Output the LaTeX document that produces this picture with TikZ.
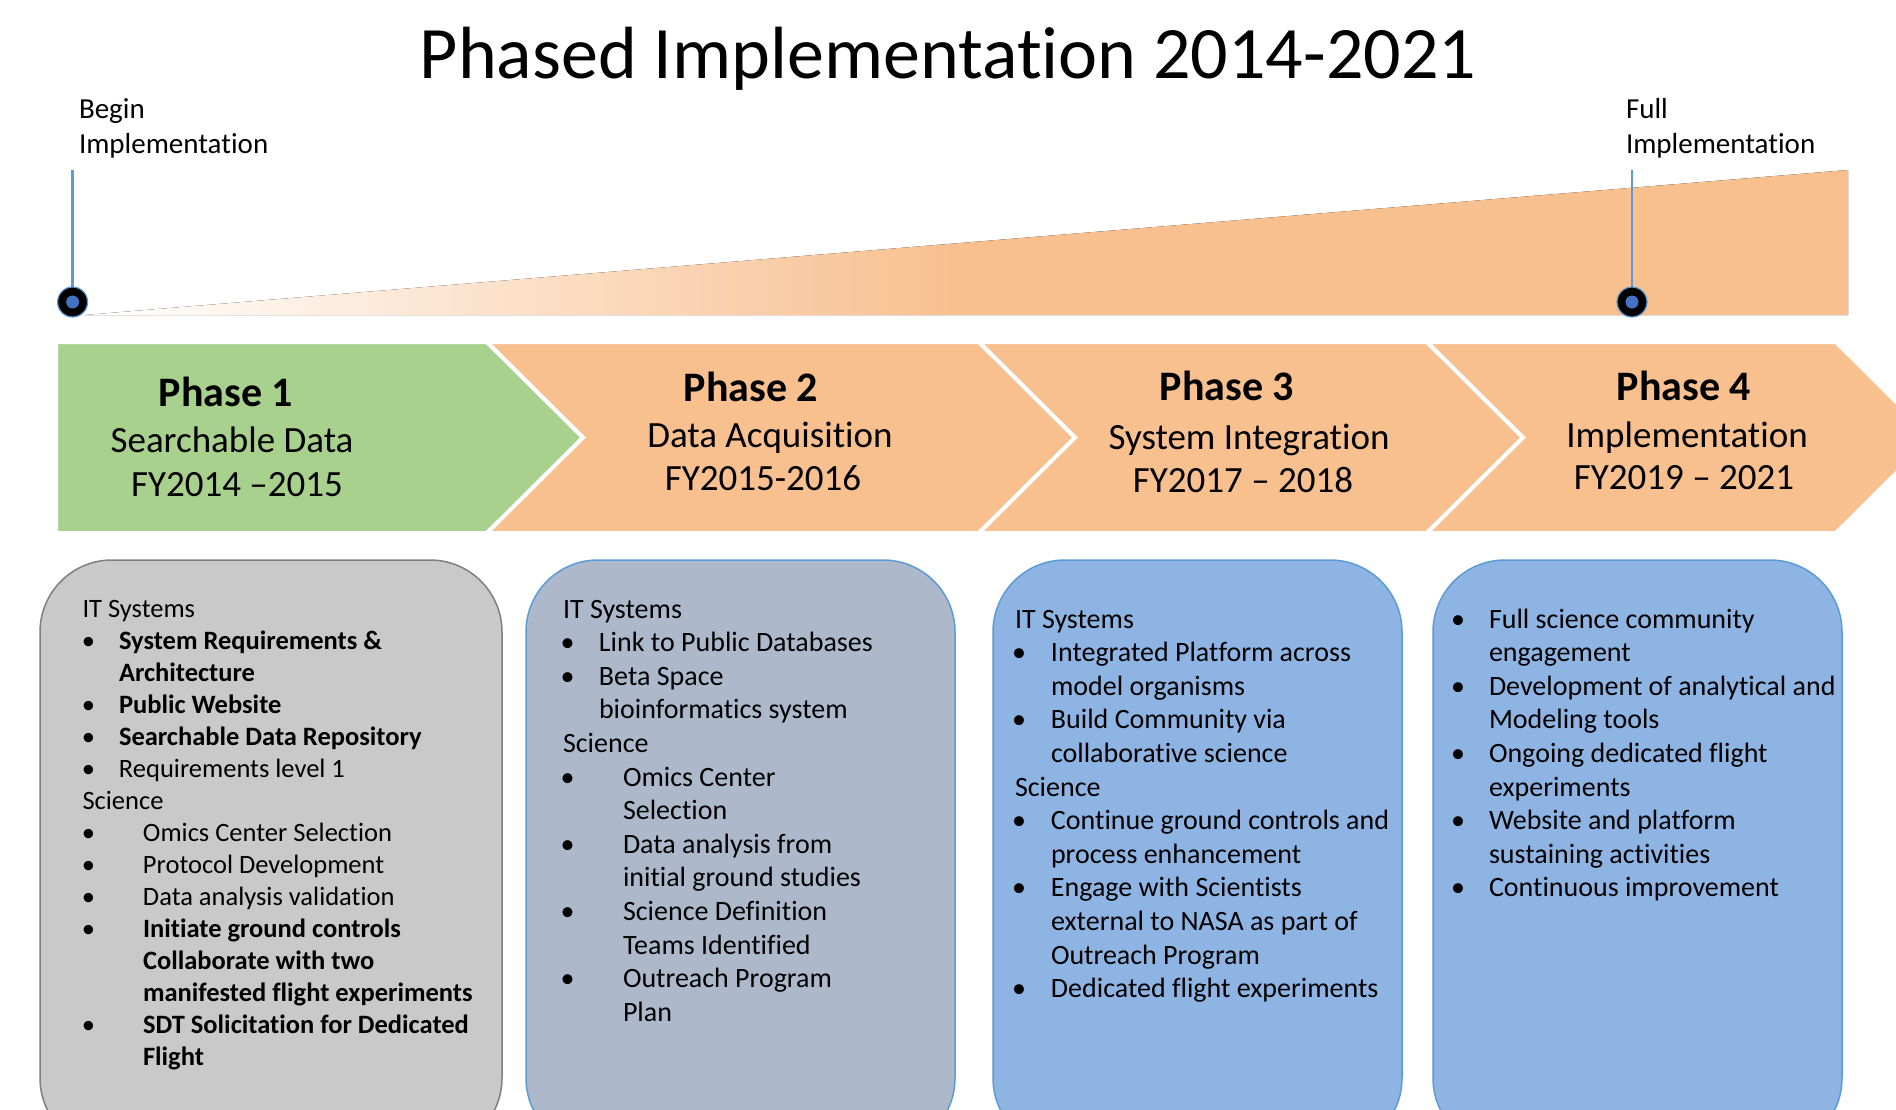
\documentclass[tikz,border=0pt]{standalone}
\usepackage{fontspec}
\setmainfont{Carlito}[Ligatures=NoCommon]
\definecolor{orngA}{HTML}{F8BF8F}
\definecolor{grnA}{HTML}{A9D18E}
\definecolor{lineblue}{HTML}{5B9BD5}
\definecolor{dotblue}{HTML}{4472C4}
\definecolor{grayfill}{HTML}{C9C9C9}
\definecolor{grayline}{HTML}{7F7F7F}
\definecolor{slatefill}{HTML}{ADB9CA}
\definecolor{bluefill}{HTML}{8EB4E3}
\newcommand\ItemA[1]{\hspace*{\bulx}\makebox[0pt]{\textbullet}\hspace*{\dimexpr\txa-\bulx\relax}#1}
\newcommand\ItemB[1]{\hspace*{\bulx}\makebox[0pt]{\textbullet}\hspace*{\dimexpr\txb-\bulx\relax}#1}
\newcommand\ContA[1]{\hspace*{\txa}#1}
\newcommand\ContB[1]{\hspace*{\txb}#1}
\begin{document}
\begin{tikzpicture}[x=1pt,y=-1pt,
  every node/.style={inner sep=0pt, outer sep=0pt},
  lbl/.style={font=\fontsize{29}{35}\selectfont, anchor=base west},
  vline/.style={draw=lineblue, line width=2.5pt},
  marker/.style={circle, fill=black, draw=lineblue, line width=1.2pt, minimum size=30pt,
    path picture={\fill[dotblue] (path picture bounding box.center) circle (6.5pt);}},
  chev/.style={draw=white, line width=4pt, line join=miter},
  phead/.style={font=\fontsize{42}{50}\selectfont\bfseries, anchor=base},
  psub/.style={font=\fontsize{37}{44}\selectfont, anchor=base},
  card/.style={rounded corners=72pt, line width=1.5pt, anchor=north west, minimum height=590pt},
  txt/.style={anchor=base west},
]
\useasboundingbox (0,0) rectangle (1896,1109);
\clip (0,0) rectangle (1896,1109);

% title
\node[font=\fontsize{74}{88}\selectfont, anchor=base] (title) at (948,78) {Phased Implementation 2014-2021};

% growth wedge
\fill[left color=white, right color=orngA, middle color=orngA] (85,315) -- (1848,315) -- (1848,170) -- cycle;

% milestones
\node[lbl] (begin) at (79,118) {\parbox[t]{300pt}{Begin\\Implementation}};
\node[lbl] (full) at (1626,118) {\parbox[t]{300pt}{Full\\Implementation}};
\coordinate (btop) at (72.6,170);
\coordinate (ftop) at (1632,170);
\node[marker] (bmark) at (72.6,302) {};
\node[marker] (fmark) at (1632,302) {};
\draw[vline] (btop) -- (bmark.north);
\draw[vline] (ftop) -- (fmark.north);

% chevrons
\path[chev, fill=grnA] (56,342) -- (487,342) -- (583,437.5) -- (487,533) -- (56,533) -- cycle;
\path[chev, fill=orngA] (487,342) -- (979,342) -- (1075,437.5) -- (979,533) -- (487,533) -- (583,437.5) -- cycle;
\path[chev, fill=orngA] (979,342) -- (1427,342) -- (1523,437.5) -- (1427,533) -- (979,533) -- (1075,437.5) -- cycle;
\path[chev, fill=orngA] (1427,342) -- (1836,342) -- (1932,437.5) -- (1836,533) -- (1427,533) -- (1523,437.5) -- cycle;

\node[phead] (p1h) at (226,406) {Phase 1};
\node[psub] (p1a) at (232,452) {Searchable Data};
\node[psub] (p1b) at (237,496) {FY2014 –2015};
\node[phead] (p2h) at (751,401) {Phase 2};
\node[psub] (p2a) at (770,447) {Data Acquisition};
\node[psub] (p2b) at (763,490) {FY2015-2016};
\node[phead] (p3h) at (1227,400) {Phase 3};
\node[psub] (p3a) at (1249,449) {System Integration};
\node[psub] (p3b) at (1243,492) {FY2017 – 2018};
\node[phead] (p4h) at (1684,400) {Phase 4};
\node[psub] (p4a) at (1687,447) {Implementation};
\node[psub] (p4b) at (1684,489) {FY2019 – 2021};

% cards
\node[card, fill=grayfill, draw=grayline, minimum width=462pt] (b1) at (40,560) {};
\node[card, fill=slatefill, draw=lineblue, minimum width=429pt] (b2) at (526,560) {};
\node[card, fill=bluefill, draw=lineblue, minimum width=409pt] (b3) at (993,560) {};
\node[card, fill=bluefill, draw=lineblue, minimum width=409pt] (b4) at (1433,560) {};

\node[txt] (t1) at (82.5,617) {\parbox[t]{440pt}{\fontsize{26.5}{32}\selectfont
\def\bulx{6pt}\def\txa{36.5pt}\def\txb{60.5pt}%
IT Systems\\
\ItemA{\textbf{System Requirements \&}}\\
\ContA{\textbf{Architecture}}\\
\ItemA{\textbf{Public Website}}\\
\ItemA{\textbf{Searchable Data Repository}}\\
\ItemA{Requirements level 1}\\
Science\\
\ItemB{Omics Center Selection}\\
\ItemB{Protocol Development}\\
\ItemB{Data analysis validation}\\
\ItemB{\textbf{Initiate ground controls}}\\
\ContB{\textbf{Collaborate with two}}\\
\ContB{\textbf{manifested flight experiments}}\\
\ItemB{\textbf{SDT Solicitation for Dedicated}}\\
\ContB{\textbf{Flight}}}};

\node[txt] (t2) at (563,618) {\parbox[t]{420pt}{\fontsize{28}{33.6}\selectfont
\def\bulx{4.5pt}\def\txa{36pt}\def\txb{60pt}%
IT Systems\\
\ItemA{Link to Public Databases}\\
\ItemA{Beta Space}\\
\ContA{bioinformatics system}\\
Science\\
\ItemB{Omics Center}\\
\ContB{Selection}\\
\ItemB{Data analysis from}\\
\ContB{initial ground studies}\\
\ItemB{Science Definition}\\
\ContB{Teams Identified}\\
\ItemB{Outreach Program}\\
\ContB{Plan}}};

\node[txt] (t3) at (1015,628) {\parbox[t]{420pt}{\fontsize{28}{33.6}\selectfont
\def\bulx{4pt}\def\txa{36pt}\def\txb{60pt}%
IT Systems\\
\ItemA{Integrated Platform across}\\
\ContA{model organisms}\\
\ItemA{Build Community via}\\
\ContA{collaborative science}\\
Science\\
\ItemA{Continue ground controls and}\\
\ContA{process enhancement}\\
\ItemA{Engage with Scientists}\\
\ContA{external to NASA as part of}\\
\ContA{Outreach Program}\\
\ItemA{Dedicated flight experiments}}};

\node[txt] (t4) at (1454,628) {\parbox[t]{420pt}{\fontsize{28}{33.6}\selectfont
\def\bulx{4pt}\def\txa{35pt}\def\txb{60pt}%
\ItemA{Full science community}\\
\ContA{engagement}\\
\ItemA{Development of analytical and}\\
\ContA{Modeling tools}\\
\ItemA{Ongoing dedicated flight}\\
\ContA{experiments}\\
\ItemA{Website and platform}\\
\ContA{sustaining activities}\\
\ItemA{Continuous improvement}}};
\end{tikzpicture}
\end{document}
